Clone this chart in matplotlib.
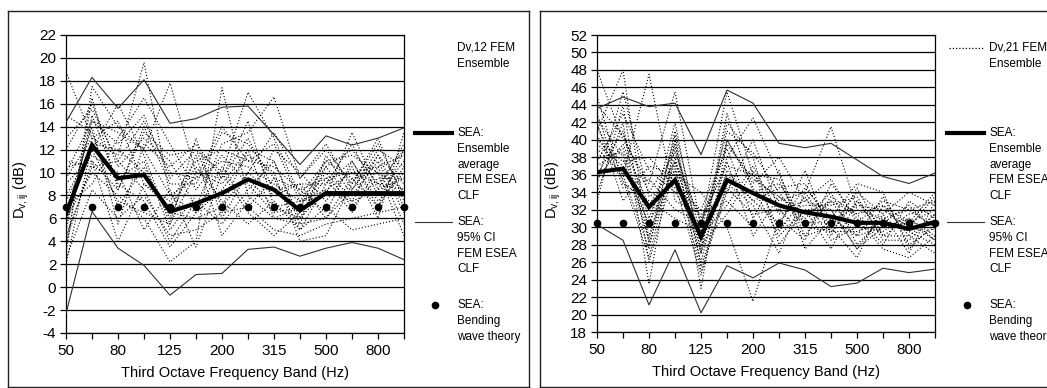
import matplotlib
matplotlib.use("Agg")
import matplotlib.pyplot as plt
from matplotlib.lines import Line2D

plt.rcParams['font.family'] = ['Liberation Sans', 'DejaVu Sans']
plt.rcParams['mathtext.fontset'] = 'custom'
plt.rcParams['mathtext.rm'] = 'Liberation Sans'
plt.rcParams['mathtext.it'] = 'Liberation Sans'
plt.rcParams['axes.unicode_minus'] = False

# ---------------- data ----------------
bands = ["50", "63", "80", "100", "125", "160", "200", "250", "315", "400",
         "500", "630", "800", "1000"]
tick_labels = ["50", "", "80", "", "125", "", "200", "", "315", "", "500", "", "800", ""]

# Left panel (Dv,12)
left_mean = [6.4, 12.4, 9.5, 9.8, 6.6, 7.3, 8.2, 9.4, 8.5, 6.7, 8.2, 8.2, 8.2, 8.2]
left_upper = [14.4, 18.3, 15.6, 18.1, 14.3, 14.7, 15.7, 15.8, 13.3, 10.7, 13.2, 12.4, 13.0, 13.9]
left_lower = [-2.3, 6.6, 3.4, 1.9, -0.7, 1.1, 1.2, 3.3, 3.5, 2.7, 3.4, 3.9, 3.4, 2.4]
left_bending = [7.0] * 14
left_ensemble = [
    [18.8, 13.0, 11.5, 19.6, 8.0, 9.5, 11.0, 10.5, 9.0, 7.5, 8.5, 10.0, 9.0, 8.5],
    [3.0, 17.5, 14.0, 12.0, 17.8, 10.0, 9.0, 12.0, 11.0, 6.0, 10.5, 7.5, 11.5, 9.0],
    [6.0, 10.0, 8.0, 6.0, 2.2, 4.0, 17.4, 8.0, 6.0, 5.5, 6.0, 9.5, 7.0, 12.0],
    [10.0, 14.5, 12.5, 15.0, 9.5, 12.0, 10.0, 17.0, 13.0, 8.0, 11.0, 11.5, 10.0, 4.5],
    [2.5, 8.5, 6.0, 8.0, 4.5, 5.0, 6.5, 7.0, 5.0, 4.5, 5.5, 6.0, 6.5, 7.0],
    [12.0, 16.0, 10.5, 13.0, 11.0, 7.0, 12.5, 13.5, 16.6, 9.5, 12.5, 8.5, 12.0, 10.5],
    [4.0, 11.0, 4.0, 9.0, 7.0, 10.5, 7.5, 5.5, 7.5, 5.0, 7.0, 5.0, 5.5, 6.0],
    [8.0, 12.0, 16.0, 11.5, 5.5, 13.0, 6.0, 10.0, 8.0, 9.0, 9.0, 12.5, 8.0, 11.0],
    [5.0, 15.0, 9.0, 7.5, 3.5, 6.5, 8.5, 11.5, 10.0, 4.0, 4.5, 9.0, 13.0, 7.5],
    [7.0, 9.0, 13.0, 16.5, 12.5, 8.5, 11.5, 9.0, 6.5, 7.0, 10.0, 7.0, 9.5, 9.5],
    [15.0, 13.5, 7.0, 10.5, 6.0, 11.5, 4.5, 7.5, 12.0, 10.0, 7.5, 10.5, 6.0, 13.5],
    [9.0, 11.5, 10.0, 5.0, 8.5, 3.5, 10.0, 6.5, 4.5, 6.5, 9.5, 6.5, 10.5, 5.5],
    [3.5, 16.5, 8.5, 14.0, 9.0, 9.0, 13.5, 12.5, 9.5, 8.5, 6.5, 11.0, 7.5, 10.0],
    [11.0, 10.5, 11.0, 8.5, 4.0, 7.5, 5.5, 8.5, 11.0, 5.5, 11.5, 8.0, 11.0, 6.5],
    [6.5, 14.0, 5.5, 12.5, 10.5, 12.5, 9.5, 14.5, 7.0, 7.5, 8.0, 13.5, 8.5, 12.5],
    [2.0, 12.5, 12.0, 10.0, 6.5, 6.0, 7.0, 10.0, 13.5, 9.5, 12.0, 9.0, 12.5, 8.0],
    [9.5, 13.0, 14.5, 9.0, 7.5, 11.0, 12.0, 11.0, 10.5, 8.5, 9.5, 10.0, 10.5, 11.5],
    [4.5, 10.5, 9.5, 11.0, 5.0, 8.0, 8.0, 9.5, 7.0, 6.0, 8.5, 7.5, 8.5, 9.5],
    [13.0, 15.5, 11.0, 14.5, 10.0, 9.5, 14.0, 11.0, 12.5, 7.5, 10.5, 12.0, 9.0, 12.0],
    [7.5, 12.0, 7.5, 6.5, 5.5, 10.0, 9.5, 13.0, 8.5, 9.0, 6.0, 8.5, 11.5, 7.0],
    [5.5, 14.5, 13.5, 12.0, 8.0, 6.5, 10.5, 7.0, 9.5, 5.0, 9.0, 11.0, 7.0, 10.5],
    [10.5, 11.0, 8.5, 13.5, 11.5, 12.0, 7.0, 12.0, 6.0, 7.0, 11.0, 9.5, 10.0, 8.5],
]

# Right panel (Dv,21)
right_mean = [36.3, 36.7, 32.3, 35.4, 28.9, 35.4, 33.9, 32.5, 31.7, 31.2, 30.5, 30.5, 29.8, 30.6]
right_upper = [43.6, 44.9, 43.8, 44.2, 38.3, 45.7, 44.2, 39.6, 39.1, 39.6, 37.7, 35.8, 35.0, 36.2]
right_lower = [30.3, 28.5, 21.1, 27.4, 20.2, 25.6, 24.2, 25.9, 25.1, 23.2, 23.6, 25.3, 24.8, 25.2]
right_bending = [30.5] * 14
right_ensemble = [
    [48.0, 40.0, 35.0, 45.5, 30.0, 45.5, 36.0, 33.0, 34.0, 41.5, 32.0, 31.0, 32.0, 33.0],
    [41.0, 48.0, 28.0, 38.0, 26.0, 38.0, 42.5, 36.0, 30.0, 33.0, 29.0, 33.5, 28.0, 30.0],
    [39.0, 36.0, 47.5, 33.0, 31.5, 33.0, 30.0, 30.0, 36.5, 29.0, 34.5, 29.0, 31.0, 28.5],
    [34.0, 42.0, 23.5, 40.0, 23.0, 40.0, 35.0, 38.0, 33.0, 32.0, 27.5, 31.5, 34.0, 32.5],
    [42.0, 33.0, 37.0, 36.0, 34.0, 30.0, 21.5, 31.0, 28.5, 35.0, 31.0, 27.5, 26.5, 29.0],
    [37.0, 39.0, 30.0, 42.0, 27.0, 42.0, 38.0, 28.0, 32.0, 27.5, 33.0, 30.0, 30.5, 34.0],
    [45.0, 35.0, 33.0, 31.0, 29.5, 36.0, 33.0, 34.5, 35.0, 30.0, 26.5, 32.5, 29.0, 27.0],
    [33.0, 44.0, 26.0, 37.0, 25.0, 34.0, 40.0, 32.0, 29.0, 33.5, 31.5, 28.0, 33.0, 31.0],
    [40.0, 37.5, 38.0, 34.5, 32.0, 39.0, 31.0, 36.5, 27.5, 31.0, 35.0, 34.0, 27.5, 30.5],
    [36.0, 41.0, 31.0, 39.5, 28.0, 31.5, 36.5, 29.5, 33.5, 28.5, 30.0, 29.5, 31.5, 32.0],
    [43.0, 34.5, 35.5, 32.0, 30.5, 37.5, 29.0, 33.5, 31.0, 34.0, 28.0, 31.0, 29.5, 28.0],
    [38.0, 38.5, 29.0, 37.5, 27.5, 43.0, 34.0, 35.0, 30.5, 30.5, 32.5, 32.0, 30.0, 33.5],
    [35.0, 45.5, 33.5, 35.0, 24.5, 35.0, 32.5, 27.0, 34.0, 29.5, 29.5, 30.5, 32.5, 29.5],
    [41.5, 36.0, 27.5, 41.0, 29.0, 32.5, 37.0, 31.5, 32.5, 32.5, 33.5, 28.5, 28.5, 31.5],
    [44.0, 40.5, 34.0, 38.5, 30.5, 39.5, 35.5, 33.5, 31.5, 33.0, 31.5, 32.5, 30.5, 32.0],
    [39.5, 37.0, 30.5, 36.5, 27.0, 36.5, 33.0, 30.5, 34.5, 31.0, 29.0, 30.0, 31.0, 29.0],
    [37.5, 43.0, 36.5, 34.0, 29.5, 41.0, 38.5, 34.0, 30.0, 29.5, 33.0, 29.0, 29.0, 31.5],
    [42.5, 38.0, 28.5, 40.5, 25.5, 34.5, 31.5, 32.0, 33.0, 35.5, 30.5, 33.0, 32.0, 30.0],
    [35.5, 39.5, 32.5, 37.5, 31.0, 37.0, 36.0, 35.5, 29.0, 30.0, 34.0, 31.5, 27.0, 33.0],
    [40.5, 35.5, 26.5, 39.0, 28.5, 40.0, 34.5, 29.0, 32.0, 32.0, 27.5, 30.0, 30.5, 28.5],
]

# ---------------- figure ----------------
W, H = 1047, 388
fig = plt.figure(figsize=(W / 100, H / 100), dpi=100)


def fx(px):
    return px / W


def fy(py):
    return 1 - py / H


# outer panel boxes
box_kw = dict(color='#222222', lw=1.0, transform=fig.transFigure)
for (x0, x1, draw_right) in [(8, 529, True), (540, 1052, False)]:
    fig.add_artist(Line2D([fx(x0), fx(x1)], [fy(11), fy(11)], **box_kw))
    fig.add_artist(Line2D([fx(x0), fx(x1)], [fy(386.5), fy(386.5)], **box_kw))
    fig.add_artist(Line2D([fx(x0), fx(x0)], [fy(11), fy(386.5)], **box_kw))
    if draw_right:
        fig.add_artist(Line2D([fx(x1), fx(x1)], [fy(11), fy(386.5)], **box_kw))


def panel(ax_px, ylim, mean, upper, lower, bending, ensemble, ylabel_x,
          leg_x, leg_title, dotted_sample):
    x0, y0, x1, y1 = ax_px
    ax = fig.add_axes([fx(x0), fy(y1), fx(x1 - x0), (y1 - y0) / H])
    x = list(range(len(bands)))
    for member in ensemble:
        ax.plot(x, member, color='black', lw=0.8, ls=(0, (1, 1.8)), zorder=2)
    ax.plot(x, upper, color='#303030', lw=0.8, zorder=3)
    ax.plot(x, lower, color='#303030', lw=0.8, zorder=3)
    ax.plot(x, mean, color='black', lw=3.0, zorder=4, solid_joinstyle='miter')
    ax.plot(x, bending, ls='none', marker='o', ms=4.5, color='black', zorder=5,
            clip_on=False)
    ax.set_xlim(0, len(bands) - 1)
    ax.set_ylim(*ylim)
    ax.set_xticks(x)
    ax.set_xticklabels(tick_labels)
    ax.set_yticks(range(ylim[0], ylim[1] + 1, 2))
    ax.yaxis.grid(True, color='black', lw=0.9, zorder=1)
    ax.set_axisbelow(True)
    ax.tick_params(direction='out', length=4, width=0.9, labelsize=11, colors='black')
    ax.tick_params(axis='x', pad=4)
    ax.tick_params(axis='y', pad=3)
    for s in ax.spines.values():
        s.set_linewidth(0.9)
        s.set_color('black')
    ax.set_xlabel('Third Octave Frequency Band (Hz)', fontsize=10.5, labelpad=6)
    fig.text(fx(ylabel_x), fy(190), r'$\mathrm{D_{v,ij}}$ (dB)', rotation=90,
             ha='center', va='center', fontsize=10.5)

    # manual legend
    fs = 8.5
    lh = 15.8
    if dotted_sample:
        fig.add_artist(Line2D([fx(leg_x - 40), fx(leg_x - 5)], [fy(48), fy(48)],
                              color='black', lw=0.9, ls=(0, (1, 1.6))))
    fig.text(fx(leg_x), fy(48), leg_title, fontsize=fs, va='center', ha='left')
    fig.text(fx(leg_x), fy(48 + lh), 'Ensemble', fontsize=fs, va='center', ha='left')

    fig.add_artist(Line2D([fx(leg_x - 42), fx(leg_x - 5)], [fy(133), fy(133)],
                          color='black', lw=3.0))
    for i, t in enumerate(['SEA:', 'Ensemble', 'average', 'FEM ESEA', 'CLF']):
        fig.text(fx(leg_x), fy(133 + i * lh), t, fontsize=fs, va='center', ha='left')

    fig.add_artist(Line2D([fx(leg_x - 42), fx(leg_x - 5)], [fy(222), fy(222)],
                          color='#303030', lw=0.8))
    for i, t in enumerate(['SEA:', '95% CI', 'FEM ESEA', 'CLF']):
        fig.text(fx(leg_x), fy(222 + i * lh), t, fontsize=fs, va='center', ha='left')

    fig.add_artist(Line2D([fx(leg_x - 22)], [fy(305)], ls='none', marker='o',
                          ms=4.5, color='black'))
    for i, t in enumerate(['SEA:', 'Bending', 'wave theory']):
        fig.text(fx(leg_x), fy(305 + i * lh), t, fontsize=fs, va='center', ha='left')
    return ax


panel((66, 35, 404, 333), (-4, 22), left_mean, left_upper, left_lower,
      left_bending, left_ensemble, 21, 457, 'Dv,12 FEM', False)
panel((597, 35, 935, 332), (18, 52), right_mean, right_upper, right_lower,
      right_bending, right_ensemble, 553, 989, 'Dv,21 FEM', True)

fig.savefig('out.png', dpi=100)
